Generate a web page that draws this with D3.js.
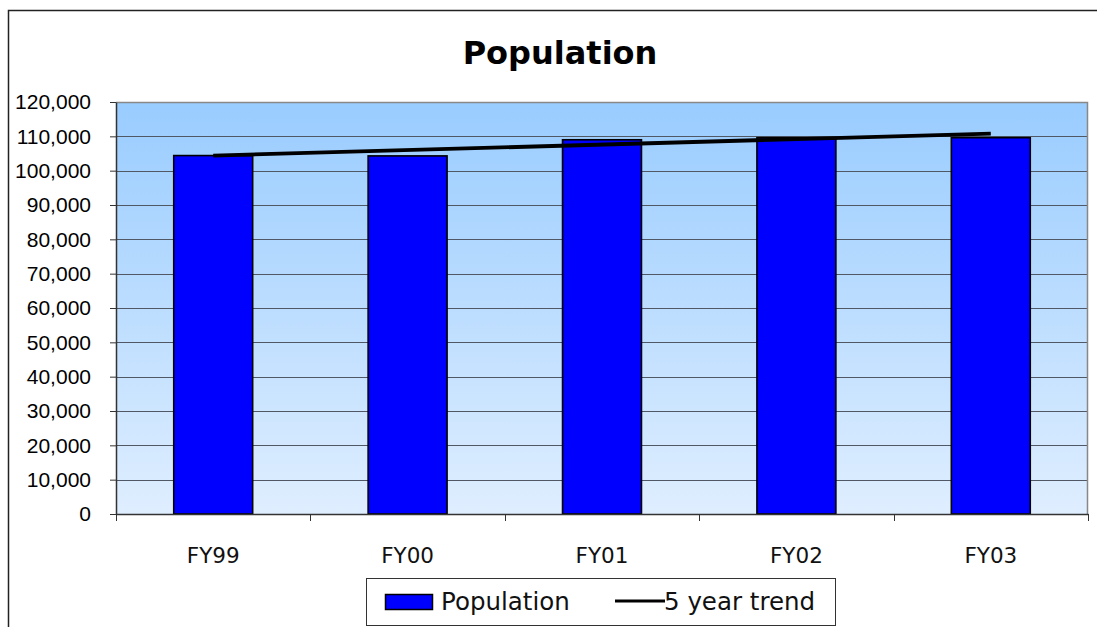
<!DOCTYPE html>
<html>
<head>
<meta charset="utf-8">
<script src="https://cdn.jsdelivr.net/npm/d3@7"></script>
<style>
  html, body { margin: 0; padding: 0; background: #fff; }
  svg { display: block; }
</style>
</head>
<body>
<svg id="chart" width="1097" height="627"></svg>
<script>
// ---- Data ----
const categories = ["FY99", "FY00", "FY01", "FY02", "FY03"];
const population = [104400, 104300, 109000, 109600, 109600];
const trendEnds = [104400, 110800]; // trend line value at first and last category
const yTicks = [0, 10000, 20000, 30000, 40000, 50000, 60000, 70000, 80000, 90000, 100000, 110000, 120000];
const titleText = "Population";
const legendLabels = ["Population", "5 year trend"];

// ---- Layout ----
const svg = d3.select("#chart");
const plot = { left: 116, top: 102, right: 1088, bottom: 514 };

// outer frame (extends beyond the window)
svg.append("rect")
  .attr("x", 8.5).attr("y", 10.5)
  .attr("width", 1200).attr("height", 700)
  .attr("fill", "#fff").attr("stroke", "#222").attr("stroke-width", 1.5);

// gradient
const defs = svg.append("defs");
const grad = defs.append("linearGradient").attr("id", "bg")
  .attr("x1", 0).attr("y1", 0).attr("x2", 0).attr("y2", 1);
grad.append("stop").attr("offset", "0%").attr("stop-color", "#99CCFF");
grad.append("stop").attr("offset", "100%").attr("stop-color", "#DFEEFF");

const x = d3.scaleBand()
  .domain(categories)
  .range([plot.left, plot.right])
  .paddingInner(0.594)
  .paddingOuter(0.297);

const y = d3.scaleLinear()
  .domain([0, 120000])
  .range([plot.bottom, plot.top]);

// plot background
svg.append("rect")
  .attr("x", plot.left).attr("y", plot.top)
  .attr("width", plot.right - plot.left).attr("height", plot.bottom - plot.top)
  .attr("fill", "url(#bg)");

// gridlines
svg.append("g").selectAll("line")
  .data(yTicks.filter(d => d > 0 && d < 120000))
  .join("line")
  .attr("x1", plot.left).attr("x2", plot.right)
  .attr("y1", d => Math.round(y(d)) + 0.5).attr("y2", d => Math.round(y(d)) + 0.5)
  .attr("stroke", "#505866").attr("stroke-width", 1);

// plot border top & right (gray)
svg.append("path")
  .attr("d", `M${plot.left},${plot.top + 0.5}H${plot.right - 0.5}V${plot.bottom}`)
  .attr("fill", "none").attr("stroke", "#888").attr("stroke-width", 1.5);

// bars
svg.append("g").selectAll("rect")
  .data(population)
  .join("rect")
  .attr("x", (d, i) => x(categories[i]))
  .attr("y", d => y(d))
  .attr("width", x.bandwidth())
  .attr("height", d => y(0) - y(d))
  .attr("fill", "#0000FF")
  .attr("stroke", "#000")
  .attr("stroke-width", 1.6);

// trend line
const trendPts = [
  [x(categories[0]) + x.bandwidth() / 2, y(trendEnds[0])],
  [x(categories[categories.length - 1]) + x.bandwidth() / 2, y(trendEnds[1])]
];
svg.append("path")
  .attr("d", d3.line()(trendPts))
  .attr("fill", "none").attr("stroke", "#000").attr("stroke-width", 3.8)
  .attr("stroke-linecap", "butt");

// Y axis
const yAxis = d3.axisLeft(y).tickValues(yTicks).tickSize(6).tickSizeOuter(0)
  .tickFormat(d3.format(","));
const gy = svg.append("g").attr("transform", `translate(${plot.left},0)`).call(yAxis);
gy.select(".domain").attr("stroke", "#333").attr("stroke-width", 1.5);
gy.selectAll(".tick line").attr("stroke", "#333");
gy.selectAll(".tick text")
  .attr("font-family", "'Liberation Sans', Arial, sans-serif")
  .attr("font-size", 21).attr("fill", "#000")
  .attr("x", -25).attr("dy", "0.33em");

// X axis
const xAxis = d3.axisBottom(x).tickSize(0).tickSizeOuter(0);
const gx = svg.append("g").attr("transform", `translate(0,${plot.bottom})`).call(xAxis);
gx.select(".domain").attr("stroke", "#333").attr("stroke-width", 1.5);
gx.selectAll(".tick text")
  .attr("font-family", "'DejaVu Sans', Verdana, sans-serif")
  .attr("font-size", 21.5).attr("fill", "#111")
  .attr("y", 49).attr("dy", 0);
// category boundary ticks
const bounds = d3.range(categories.length + 1).map(i => plot.left + i * x.step());
svg.append("g").selectAll("line").data(bounds).join("line")
  .attr("x1", d => Math.round(d) + 0.5).attr("x2", d => Math.round(d) + 0.5)
  .attr("y1", plot.bottom).attr("y2", plot.bottom + 7)
  .attr("stroke", "#333").attr("stroke-width", 1);

// title
svg.append("text")
  .attr("x", 560).attr("y", 64)
  .attr("text-anchor", "middle")
  .attr("font-family", "'DejaVu Sans', Verdana, sans-serif")
  .attr("font-weight", "bold").attr("font-size", 32)
  .attr("fill", "#000")
  .text(titleText);

// legend
const lg = svg.append("g");
lg.append("rect").attr("x", 366.5).attr("y", 578.5).attr("width", 469).attr("height", 47)
  .attr("fill", "#fff").attr("stroke", "#333").attr("stroke-width", 1);
lg.append("rect").attr("x", 385.5).attr("y", 594.5).attr("width", 47).attr("height", 15)
  .attr("fill", "#0000FF").attr("stroke", "#000").attr("stroke-width", 1.5);
lg.append("text").attr("x", 441).attr("y", 610)
  .attr("font-family", "'DejaVu Sans', Verdana, sans-serif").attr("font-size", 24.5)
  .attr("fill", "#111").text(legendLabels[0]);
lg.append("line").attr("x1", 615).attr("x2", 665).attr("y1", 601).attr("y2", 601)
  .attr("stroke", "#000").attr("stroke-width", 3);
lg.append("text").attr("x", 664).attr("y", 610)
  .attr("font-family", "'DejaVu Sans', Verdana, sans-serif").attr("font-size", 24.5)
  .attr("fill", "#111").text(legendLabels[1]);
</script>
</body>
</html>
